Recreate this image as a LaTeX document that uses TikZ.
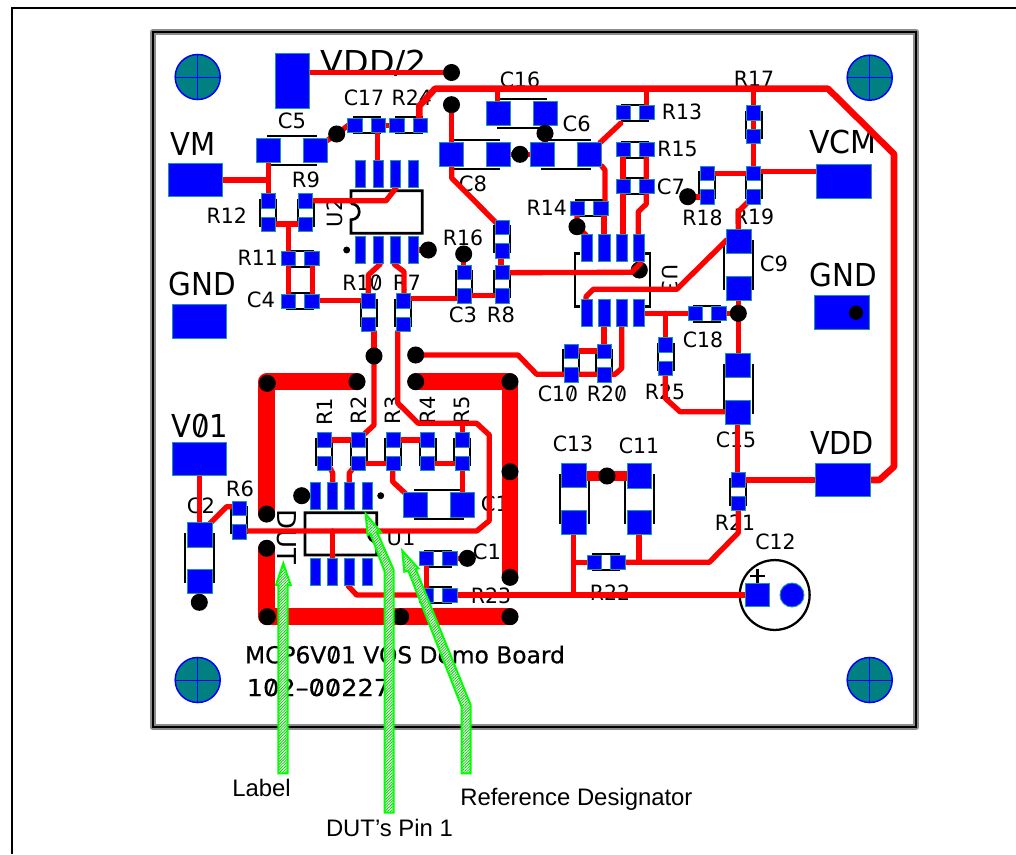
\documentclass[tikz,border=0pt]{standalone}
\usepackage{fontspec}
\setmainfont{DejaVu Sans}
\newfontfamily\annfont{Liberation Sans}
\newfontfamily\boardfont[FakeBold=0.5]{DejaVu Sans}
\usetikzlibrary{patterns.meta}
\definecolor{padblue}{RGB}{0,0,255}
\definecolor{padedge}{RGB}{30,150,170}
\definecolor{holeteal}{RGB}{0,128,128}
\definecolor{tracered}{RGB}{255,0,0}
\definecolor{arrowgreen}{RGB}{0,255,0}
\def\zz{\ooalign{0\cr\hidewidth\raisebox{.1em}{\scalebox{.75}{/}}\hidewidth\cr}}
\tikzset{
  x=0.75pt,y=-0.75pt,
  lbl/.style={inner sep=0pt,outer sep=0pt,anchor=base,font=\fontsize{15.8pt}{16pt}\selectfont},
  biglbl/.style={inner sep=0pt,outer sep=0pt,anchor=base,font=\fontsize{23.7pt}{24pt}\selectfont},
  boardlbl/.style={inner sep=0pt,outer sep=0pt,anchor=base west,font=\boardfont\fontsize{17.5pt}{18pt}\selectfont},
  annlbl/.style={inner sep=0pt,outer sep=0pt,anchor=base west,font=\annfont\fontsize{17.9pt}{18pt}\selectfont},
  tr/.style={draw=tracered,line width=4pt,line join=round,line cap=round},
  rail/.style={draw=tracered,line width=4.9pt,line join=round,line cap=round},
  fat/.style={draw=tracered,line width=12.4pt,line join=round,line cap=round},
  padb/.style={fill=padblue,draw=padedge,line width=0.7pt},
  silk/.style={draw=black,line width=1.5pt},
  outline/.style={draw=black,line width=2pt,line join=miter},
  greenarrow/.style={draw=arrowgreen,line width=1.5pt,line join=miter,
     preaction={fill=white},pattern={Lines[angle=45,distance=1.5pt,line width=0.6pt]},pattern color=arrowgreen!80!black},
}
% pass 1: silk, pass 2: pads
\def\silkSH#1#2{\draw[silk] (#1-14,#2-8) -- (#1+14,#2-8) (#1-14,#2+8) -- (#1+14,#2+8);}
\def\silkSV#1#2{\draw[silk] (#1-8,#2-14) -- (#1-8,#2+14) (#1+8,#2-14) -- (#1+8,#2+14);}
\def\silkLH#1#2{\draw[silk] (#1-25,#2-14.5) -- (#1+25,#2-14.5) (#1-25,#2+14.5) -- (#1+25,#2+14.5);}
\def\silkLV#1#2{\draw[silk] (#1-14.5,#2-25) -- (#1-14.5,#2+25) (#1+14.5,#2-25) -- (#1+14.5,#2+25);}
\def\padSH#1#2{\draw[padb] (#1-19,#2-7) rectangle (#1-4.5,#2+7) (#1+4.5,#2-7) rectangle (#1+19,#2+7);}
\def\padSV#1#2{\draw[padb] (#1-7,#2-19) rectangle (#1+7,#2-4.5) (#1-7,#2+4.5) rectangle (#1+7,#2+19);}
\def\padLH#1#2{\draw[padb] (#1-35.5,#2-12.3) rectangle (#1-11.2,#2+12.3) (#1+11.2,#2-12.3) rectangle (#1+35.5,#2+12.3);}
\def\padLV#1#2{\draw[padb] (#1-12.3,#2-35.5) rectangle (#1+12.3,#2-11.2) (#1-12.3,#2+11.2) rectangle (#1+12.3,#2+35.5);}
\def\Comps{%
 \SH{366.5}{125.3}\SH{408.7}{125.3}\SH{300.3}{258.8}\SH{300.3}{301}%
 \SH{635}{112.7}\SH{635}{149.5}\SH{635}{186.3}\SH{589}{208}\SH{707}{313.6}%
 \SH{606}{562.3}\SH{438.3}{558.7}\SH{438.3}{595.3}%
 \SV{268.3}{212.5}\SV{305.6}{212.5}\SV{368.6}{312.5}\SV{403}{312.5}\SV{464}{284.2}\SV{502}{284.2}\SV{502}{239.2}%
 \SV{753.7}{124.5}\SV{707}{185.3}\SV{753.7}{185.3}\SV{665.7}{356.5}\SV{571}{363}\SV{604}{363}\SV{738}{491.7}%
 \SV{324.3}{451.7}\SV{358.7}{451.7}\SV{393}{451.7}\SV{427.7}{451.7}\SV{462.3}{451.7}\SV{239}{520}%
 \LH{292}{150.3}\LH{475}{154.3}\LH{522}{113.3}\LH{566}{154.3}\LH{439}{504.7}%
 \LV{738.7}{265}\LV{738}{389}\LV{574}{499}\LV{639.3}{499.3}\LV{199.7}{558.3}%
}
\def\via#1#2{\fill[black] (#1,#2) circle (6.4pt);}
\def\hole#1#2{\draw[fill=holeteal,draw=padblue,line width=1.1pt] (#1,#2) circle (16.9pt);
  \draw[padblue,line width=0.7pt] (#1-22.5,#2) -- (#1+22.5,#2) (#1,#2-22.5) -- (#1,#2+22.5);}
\def\pinrow#1#2#3#4#5#6{\draw[padb] (#1,#5) rectangle (#1+#6,#5+27) (#2,#5) rectangle (#2+#6,#5+27) (#3,#5) rectangle (#3+#6,#5+27) (#4,#5) rectangle (#4+#6,#5+27);}
\begin{document}
\begin{tikzpicture}
\useasboundingbox (0,0) rectangle (1016,854);
% outer frame
\draw[black,line width=1.5pt] (1016,8) -- (12,8) -- (12,854);
% board
\draw[draw=black!45,line width=4.8pt,line join=round] (153,32) rectangle (916,727);
\draw[draw=black,line width=2pt,line join=miter] (153,32) rectangle (916,727);
% mounting holes
\hole{197.7}{77}\hole{869.7}{77.7}\hole{197.7}{680}\hole{869.7}{680}
% labels
\node[biglbl] (tVDD2) at (374,73) {\scalebox{1.05}[1]{VDD/2}};
\node[biglbl] (tVM) at (192.8,155) {\scalebox{.92}[1]{VM}};
\node[biglbl] (tGNDa) at (202,295) {\scalebox{.93}[1]{GND}};
\node[biglbl] (tVCM) at (843,153.3) {\scalebox{.95}[1]{VCM}};
\node[biglbl] (tGNDb) at (843,286.7) {\scalebox{.93}[1]{GND}};
\node[biglbl] (tVDD) at (842,454) {\scalebox{.91}[1]{VDD}};
\node[biglbl] (tV01) at (200,437.3) {\scalebox{.92}[1]{V\zz1}};
\node[lbl] (tC17) at (364,105) {\scalebox{.97}[1]{C17}};
\node[lbl] (tR24) at (411.7,105) {\scalebox{.97}[1]{R24}};
\node[lbl] (tC5) at (292,128.3) {C5};
\node[lbl] (tR9) at (306,187.7) {R9};
\node[lbl] (tR12) at (226.7,223.3) {\scalebox{.97}[1]{R12}};
\node[lbl] (tR11) at (257.7,265.7) {\scalebox{.97}[1]{R11}};
\node[lbl] (tC4) at (261,307.3) {C4};
\node[lbl] (tR10) at (362.5,290) {\scalebox{.97}[1]{R1\zz}};
\node[lbl] (tR7) at (407,290) {R7};
\node[lbl] (tC3) at (463,322.7) {C3};
\node[lbl] (tR8) at (501,322.7) {R8};
\node[lbl] (tR16) at (463,245.7) {\scalebox{.97}[1]{R16}};
\node[lbl] (tC8) at (473,191.7) {C8};
\node[lbl] (tC16) at (520,87.3) {\scalebox{.97}[1]{C16}};
\node[lbl] (tC6) at (576.7,131) {C6};
\node[lbl] (tR13) at (682,119.3) {\scalebox{.97}[1]{R13}};
\node[lbl] (tR15) at (677.5,156) {\scalebox{.97}[1]{R15}};
\node[lbl] (tC7) at (671,194) {C7};
\node[lbl] (tR14) at (546.7,215) {\scalebox{.97}[1]{R14}};
\node[lbl] (tR17) at (754,86) {\scalebox{.97}[1]{R17}};
\node[lbl] (tR18) at (702.5,225.7) {\scalebox{.97}[1]{R18}};
\node[lbl] (tR19) at (754,224) {\scalebox{.97}[1]{R19}};
\node[lbl] (tC9) at (774,271.7) {C9};
\node[lbl] (tC18) at (703,347.3) {\scalebox{.97}[1]{C18}};
\node[lbl] (tC10) at (558,401) {\scalebox{.97}[1]{C1\zz}};
\node[lbl] (tR20) at (607,401) {\scalebox{.97}[1]{R2\zz}};
\node[lbl] (tR25) at (665,399) {\scalebox{.97}[1]{R25}};
\node[lbl] (tC15) at (736,447.7) {\scalebox{.97}[1]{C15}};
\node[lbl] (tC13) at (573,451.7) {\scalebox{.97}[1]{C13}};
\node[lbl] (tC11) at (639,453) {\scalebox{.97}[1]{C11}};
\node[lbl] (tR21) at (735,530.7) {\scalebox{.97}[1]{R21}};
\node[lbl] (tC12) at (775.5,549) {\scalebox{.97}[1]{C12}};
\node[lbl] (tR22) at (610,600.7) {\scalebox{.97}[1]{R22}};
\node[lbl] (tR6) at (240,496) {R6};
\node[lbl] (tC2) at (201,513.3) {C2};
\node[lbl] (tU1) at (401,545) {U1};
\node[lbl] (tC1a) at (495,511.7) {C1};
\node[lbl] (tC1b) at (487,559) {C1};
\node[lbl] (tR23) at (491,603.3) {\scalebox{.97}[1]{R23}};
\node[lbl,rotate=90] (tU2) at (342.7,213) {U2};
\node[lbl,rotate=-90] (tU3) at (662.3,279) {U3};
\node[lbl,rotate=90] (tR1) at (332.3,411.7) {R1};
\node[lbl,rotate=90] (tR2) at (366.7,410) {R2};
\node[lbl,rotate=90] (tR3) at (400.5,410) {R3};
\node[lbl,rotate=90] (tR4) at (435.7,410) {R4};
\node[lbl,rotate=90] (tR5) at (469,410) {R5};
\node[biglbl,rotate=-90,font=\fontsize{19.5pt}{20pt}\selectfont] (tDUT) at (277.7,537.3) {DUT};
\node[boardlbl] (tBoard) at (245,663.3) {MCP6V\zz1 VOS Demo Board};
\node[boardlbl] (tPart) at (246.7,696) {\scalebox{1.1}[1]{1\zz2–\zz\zz227}};
\node[annlbl] (tLabel) at (232.3,796.7) {Label};
\node[annlbl] (tRef) at (460.3,805) {Reference Designator};
\node[annlbl] (tPin) at (326,836) {DUT’s Pin 1};
% silk
\let\SH\silkSH\let\SV\silkSV\let\LH\silkLH\let\LV\silkLV
\Comps
% U2 outline
\draw[outline] (351,203.7) -- (351,190.7) -- (422.3,190.7) -- (422.3,233.3) -- (351,233.3) -- (351,219.7) .. controls (362,219.7) and (362,203.7) .. (351,203.7);
% U3 outline
\draw[outline] (580,253.3) -- (575,253.3) -- (575,306.7) -- (580,306.7);
\draw[outline] (645,253.3) -- (650,253.3) -- (650,306.7) -- (645,306.7);
% U1 outline
\draw[outline] (376.7,526) -- (376.7,512.7) -- (305,512.7) -- (305,555) -- (376.7,555) -- (376.7,542) .. controls (365.7,542) and (365.7,526) .. (376.7,526);
\fill (346.7,250) circle (2.6pt);
\fill (380.7,495.7) circle (2.6pt);
% C12
\draw[black,line width=1.7pt] (774.7,595) circle (26.2pt);
\draw[black,line width=1.8pt] (749.8,576) -- (764.8,576) (757.3,568.5) -- (757.3,583.5);
% via under the U3 trace
\via{639.3}{270}
% thick rings
\draw[fat] (357,381.7) -- (266.7,381.7) -- (266.7,514);
\draw[fat] (415.7,381.7) -- (510,381.7) -- (510,577.3);
\draw[fat] (266.7,548.3) -- (266.7,616.7) -- (510,616.7);
% main rail
\draw[rail] (419.3,120) -- (419.3,106) -- (435,88.7) -- (828,88.7) -- (894,154) -- (894,466.7) -- (879.3,480) -- (865,480);
% traces
\draw[tr] (300,72.5) -- (451.5,72.5);
\draw[tr] (497.7,89) -- (497.7,102);
\draw[tr] (325,142) -- (336.7,134) -- (350,124);
\draw[tr] (385,125.3) -- (390,125.3);
\draw[tr] (377.7,132) -- (377.7,161);
\draw[tr] (451.5,104.7) -- (451.5,142);
\draw[tr] (451.7,166) -- (451.7,178) -- (496.7,223.3);
\draw[tr] (510,154.3) -- (530,154.3);
\draw[tr] (545,125) -- (545,142);
\draw[tr] (268.3,160) -- (268.3,197);
\draw[tr] (222.7,180) -- (268.3,180);
\draw[tr] (312,200.7) -- (386,200.7) -- (396,188);
\draw[tr] (275,224) -- (299,224);
\draw[tr] (288.7,224) -- (288.7,295);
\draw[tr] (312.3,266) -- (312.3,294);
\draw[tr] (319,300.7) -- (362,300.7);
\draw[tr] (380,264.3) -- (368.3,275) -- (368.3,294);
\draw[tr] (394.3,264.3) -- (404,271.7) -- (404,294);
\draw[tr] (410,298.3) -- (457,298.3);
\draw[tr] (471,295.7) -- (495,295.7);
\draw[tr] (463.7,254) -- (463.7,270);
\draw[tr] (501,258) -- (501,265);
\draw[tr] (502,272.7) -- (631.7,272.3) -- (640.7,263);
\draw[tr] (418,250) -- (428,250);
\draw[tr] (374,331.7) -- (374,356);
\draw[tr] (397.7,331.7) -- (397.7,403) -- (418.3,423.3) -- (476.7,423.3) -- (489.3,435) -- (489.3,520.7) -- (476.7,531) -- (246.7,531);
\draw[tr] (415.7,355) -- (518,355) -- (536.7,374.3) -- (615,374.3) -- (621.7,368.3) -- (621.7,326);
\draw[tr] (578,351) -- (597,351);
\draw[tr] (604,326) -- (604,344);
\draw[tr] (600,142.7) -- (620.7,123.3);
\draw[tr] (601.7,166) -- (605,170) -- (605,201);
\draw[tr] (604,215) -- (604,234);
\draw[tr] (623,156.7) -- (623,234);
\draw[tr] (646.3,156) -- (646.3,204) -- (638.3,211.7) -- (638.3,234);
\draw[tr] (577,215) -- (577,226.7) -- (586,235);
\draw[tr] (646.3,89) -- (646.3,105);
\draw[tr] (753.3,89) -- (753.3,166);
\draw[tr] (714,173.3) -- (747,173.3);
\draw[tr] (760.7,171.3) -- (817,171.3);
\draw[tr] (687.7,197) -- (700,197);
\draw[tr] (748.3,201.7) -- (738.3,211.7) -- (738.3,229.3);
\draw[tr] (726.7,240) -- (676.7,289.3) -- (593.3,289.3) -- (586,296.7) -- (586,300);
\draw[tr] (644.7,313.3) -- (688,313.3);
\draw[tr] (665.3,313.3) -- (665.3,338);
\draw[tr] (726,313.3) -- (738.3,313.3);
\draw[tr] (738.3,300) -- (738.3,353);
\draw[tr] (665.3,375) -- (665.3,398.3) -- (680,411.7) -- (726,411.7);
\draw[tr] (737.7,424) -- (737.7,473);
\draw[tr] (745,480) -- (815,480);
\draw[tr] (738.3,510) -- (738.3,532.7) -- (709.3,562.3) -- (625,562.3);
\draw[tr] (639,535) -- (639,562.3);
\draw[tr] (573.7,534.7) -- (573.7,595);
\draw[tr] (587,562.3) -- (573.7,562.3);
\draw[tracered,line width=7.5pt] (586,476) -- (627,476);
\draw[tr] (348.3,586) -- (356.7,595) -- (427,595);
\draw[tr] (457.3,595) -- (745,595);
\draw[tr] (426.7,565.7) -- (426.7,588);
\draw[tr] (457,558.5) -- (467,558.5);
\draw[tr] (330,468) -- (332.7,473) -- (332.7,482);
\draw[tr] (353.3,468) -- (349.3,473) -- (349.3,482);
\draw[tr] (330.7,440) -- (351,440);
\draw[tr] (363.3,435) -- (374,425) -- (374,356);
\draw[tr] (365,463.3) -- (385.7,463.3);
\draw[tr] (399.7,440) -- (420,440);
\draw[tr] (434.3,463.3) -- (455.3,463.3);
\draw[tr] (392.7,470.7) -- (392.7,481.7) -- (406,494);
\draw[tr] (462.3,470) -- (462.3,492.3);
\draw[tr] (462.3,423.3) -- (462.3,433);
\draw[tr] (301.7,495.7) -- (310,495.7);
\draw[tr] (332.3,531) -- (332.3,559);
\draw[tr] (199.3,475.7) -- (199.3,523);
\draw[tr] (210,523.3) -- (226.7,506.7) -- (232.7,506.7);
\draw[tr] (199.3,594) -- (199.3,602);
% pads
\let\SH\padSH\let\SV\padSV\let\LH\padLH\let\LV\padLV
\Comps
% test points
\draw[padb] (275,53) rectangle (309,108);
\draw[padb] (168,163.3) rectangle (222.7,196.7);
\draw[padb] (172,304) rectangle (226.7,338);
\draw[padb] (172,442.3) rectangle (226.7,475.7);
\draw[padb] (816.7,164.7) rectangle (871.7,198);
\draw[padb] (814.7,295.7) rectangle (869.3,329.3);
\draw[padb] (815.3,463.3) rectangle (870,496.7);
% SOIC pins
\pinrow{355.7}{373}{390.7}{408}{160.7}{10}
\pinrow{355.7}{373}{390.7}{408}{236.5}{10}
\pinrow{581}{598.7}{616}{633.3}{234}{11.4}
\pinrow{581}{598.7}{616}{633.3}{299.5}{11.4}
\pinrow{310}{327.3}{344.7}{362}{482}{10}
\pinrow{310}{327.3}{344.7}{362}{558.7}{10}
% C12 pads
\draw[padb] (745.7,583.3) rectangle (769,606.7);
\draw[padb] (792,595) circle (9pt);
% vias
\via{451.5}{72.5}\via{451.5}{104.7}\via{336.7}{134}\via{520}{154.3}\via{545}{133.3}
\via{428.3}{250}\via{463.7}{254}\via{374}{356}\via{415.7}{355}\via{577}{226.7}
\via{687.7}{196.7}\via{738.3}{313.3}\via{607}{476}\via{467.3}{558.3}\via{301.7}{495.7}\via{199.3}{602.3}
\fill[black] (856,312.7) circle (5.3pt);
\via{267.3}{383.3}\via{357}{381.7}\via{266.7}{514}\via{415.7}{381.7}\via{510}{381.7}\via{510}{471.7}\via{510}{577.3}
\via{266.7}{548.3}\via{267.3}{616.7}\via{400.7}{616.7}\via{510}{616.7}
% annotation arrows
\draw[greenarrow] (283.3,563.3) -- (290.7,585) -- (287.5,585) -- (287.5,773.3) -- (278.3,773.3) -- (278.3,585) -- (276,585) -- cycle;
\draw[greenarrow] (365.7,514) -- (381,532.3) -- (377,532) -- (393.5,569.5) -- (393.5,812.7) -- (384.5,812.7) -- (384.5,571) -- (370.5,534) -- (367.5,535) -- cycle;
\draw[greenarrow] (402.3,550.7) -- (418.3,568.3) -- (415.7,569) -- (470.7,705) -- (470.7,773.3) -- (461.7,773.3) -- (461.7,707) -- (408.3,570.7) -- (404.3,571.7) -- cycle;
\end{tikzpicture}
\end{document}
